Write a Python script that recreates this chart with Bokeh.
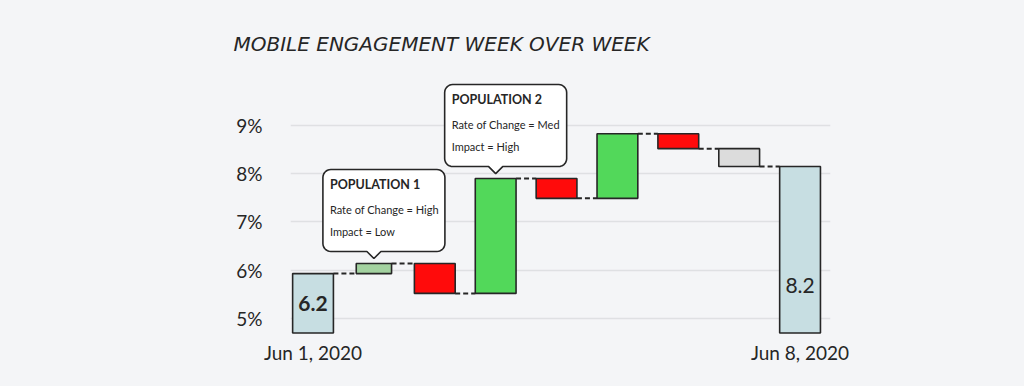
import numpy as np
from bokeh.plotting import figure
from bokeh.models import Range1d, FixedTicker, ColumnDataSource
from bokeh.embed import file_html
from bokeh.resources import INLINE
from bokeh.core.properties import value

# ---------------- data ----------------
title_text = "MOBILE ENGAGEMENT WEEK OVER WEEK"
start_label = "Jun 1, 2020"
end_label = "Jun 8, 2020"
start_value = 5.93
deltas = [0.21, -0.62, 2.38, -0.41, 1.34, -0.31, -0.37]
kinds = ["minor gain", "loss", "gain", "loss", "gain", "loss", "minor loss"]
total_labels = ["6.2", "8.2"]
base_value = 4.7
y_ticks = [5, 6, 7, 8, 9]
y_tick_labels = ["5%", "6%", "7%", "8%", "9%"]
callout_steps = [1, 3]
callout_titles = ["POPULATION 1", "POPULATION 2"]
callout_rates = ["Rate of Change = High", "Rate of Change = Med"]
callout_impacts = ["Impact = Low", "Impact = High"]

# ---------------- styles / layout ----------------
BG = "#f4f5f7"
INK = "#262626"
COLORS = {"total": "#c7dee2", "gain": "#52d85a", "minor gain": "#a3d2a0",
          "loss": "#ff0b0b", "minor loss": "#dcdcdc"}
FONT = "Lato"
W, H = 1008, 370
FL, FR, FT, FB = 290, 830, 75, 340
XR = (-0.37, 8.5)
YR = (4.544, 10.036)
px_x = (FR - FL) / (XR[1] - XR[0])
px_y = (FB - FT) / (YR[1] - YR[0])
BAR_W = 0.67

n = len(deltas)
cum = [start_value]
for d in deltas:
    cum.append(cum[-1] + d)
end_value = cum[-1]

p = figure(width=W, height=H, output_backend="svg", toolbar_location=None,
           x_range=Range1d(*XR), y_range=Range1d(*YR),
           min_border_left=FL, min_border_right=W - FR,
           min_border_top=FT, min_border_bottom=H - FB)
p.background_fill_color = BG
p.border_fill_color = BG
p.outline_line_color = None

# title
p.title.text = title_text
p.title.text_font = "DejaVu Sans"
p.title.text_font_style = "italic"
p.title.text_font_size = "20px"
p.title.text_color = INK
p.title.align = "left"
p.title.offset = -57
p.title.standoff = 40

# axes
p.xaxis.ticker = FixedTicker(ticks=[0, n + 1])
p.xaxis.major_label_overrides = {0: start_label, n + 1: end_label}
p.yaxis.ticker = FixedTicker(ticks=y_ticks)
p.yaxis.major_label_overrides = {t: l for t, l in zip(y_ticks, y_tick_labels)}
for ax in (p.xaxis, p.yaxis):
    ax.axis_line_color = None
    ax.major_tick_line_color = None
    ax.minor_tick_line_color = None
    ax.major_tick_out = 0
    ax.major_tick_in = 0
    ax.minor_tick_out = 0
    ax.minor_tick_in = 0
    ax.major_label_text_font = FONT
    ax.major_label_text_color = INK
p.yaxis.major_label_text_font_size = "19px"
p.yaxis.major_label_standoff = 28
p.xaxis.major_label_text_font_size = "19px"
p.xaxis.major_label_standoff = 0
p.xgrid.grid_line_color = None
p.ygrid.ticker = FixedTicker(ticks=y_ticks)
p.ygrid.grid_line_color = "#dfe0e3"
p.ygrid.grid_line_width = 1.5

# bars
xs, bottoms, tops, fills, widths = [], [], [], [], []
xs.append(0); bottoms.append(base_value); tops.append(start_value)
fills.append(COLORS["total"]); widths.append(BAR_W)
for i, (d, k) in enumerate(zip(deltas, kinds)):
    xs.append(i + 1)
    bottoms.append(min(cum[i], cum[i + 1]))
    tops.append(max(cum[i], cum[i + 1]))
    fills.append(COLORS[k])
    widths.append(0.58 if k == "minor gain" else BAR_W)
xs.append(n + 1); bottoms.append(base_value); tops.append(end_value)
fills.append(COLORS["total"]); widths.append(BAR_W)

src = ColumnDataSource(dict(x=xs, bottom=bottoms, top=tops, fill=fills, w=widths))
p.vbar(x="x", bottom="bottom", top="top", width="w", fill_color="fill",
       line_color=INK, line_width=1.6, source=src)

# connectors
x0s, x1s, ys = [], [], []
for i in range(n + 1):
    x0s.append(xs[i] + widths[i] / 2)
    x1s.append(xs[i + 1] - widths[i + 1] / 2)
    ys.append(cum[i])
p.segment(x0=x0s, y0=ys, x1=x1s, y1=ys, line_color=INK, line_width=2,
          line_dash="5 3")

# total labels
p.text(x=[0], y=[base_value + 0.62], text=[total_labels[0]],
       text_font=value(FONT), text_font_size="21px", text_color=INK,
       text_font_style="bold", text_align="center", text_baseline="middle")
p.text(x=[n + 1], y=[base_value + 0.98], text=[total_labels[1]],
       text_font=value(FONT), text_font_size="21px", text_color=INK,
       text_align="center", text_baseline="middle")

# callouts
def to_data(tx, ty, dx, dy):
    return tx + dx / px_x, ty - dy / px_y

L, R, T, B, RAD, PW = -51, 71, -89, -7, 8, 7
def arc(cx, cy, a0, a1):
    a = np.linspace(a0, a1, 8)
    return list(cx + RAD * np.cos(a)), list(cy + RAD * np.sin(a))

for step, ttl, rate, imp in zip(callout_steps, callout_titles, callout_rates, callout_impacts):
    tx = step
    ty = tops[step] + 5 / px_y
    px_pts, py_pts = [-PW, 0, PW], [B, 0, B]
    for (cx, cy, a0, a1) in [(R - RAD, B - RAD, np.pi / 2, 0),
                             (R - RAD, T + RAD, 0, -np.pi / 2),
                             (L + RAD, T + RAD, -np.pi / 2, -np.pi),
                             (L + RAD, B - RAD, np.pi, np.pi / 2)]:
        ax_, ay_ = arc(cx, cy, a0, a1)
        px_pts += ax_; py_pts += ay_
    dxs = [tx + q / px_x for q in px_pts]
    dys = [ty - q / px_y for q in py_pts]
    p.patch(dxs, dys, fill_color="white", line_color=INK, line_width=1.6)
    lx, _ = to_data(tx, ty, -44, 0)
    _, y1 = to_data(tx, ty, 0, -74)
    _, y2 = to_data(tx, ty, 0, -49)
    _, y3 = to_data(tx, ty, 0, -27)
    p.text(x=[lx], y=[y1], text=[ttl], text_font=value(FONT), text_font_size="12.5px",
           text_font_style="bold", text_color=INK, text_baseline="middle")
    p.text(x=[lx, lx], y=[y2, y3], text=[rate, imp], text_font=value(FONT),
           text_font_size="11px", text_color=INK, text_baseline="middle")

html = file_html(p, INLINE)
html = html.replace("<head>", "<head><style>body{background:%s;}</style>" % BG, 1)
open("out.html", "w").write(html)
